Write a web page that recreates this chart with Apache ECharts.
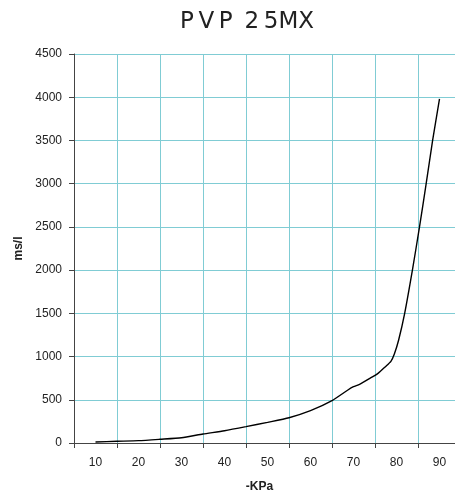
<!DOCTYPE html>
<html>
<head>
<meta charset="utf-8">
<script src="https://cdn.jsdelivr.net/npm/echarts@6/dist/echarts.min.js"></script>
<style>html,body{margin:0;padding:0;background:#fff;overflow:hidden}#c{width:455px;height:494px}</style>
</head>
<body>
<div id="c"></div>
<script>
var categories = ['10','20','30','40','50','60','70','80','90'];
var yTicks = [0,500,1000,1500,2000,2500,3000,3500,4000,4500];
var kpa = [10,15,20,25,30,35,40,45,50,55,60,65,68.7,70,71.4,73.7,75.7,77.4,78.7,79.5,80.5,81.9,83.7,85.35,86.9,88.4,90];
var msl = [12,20,27,43,61,104,142,189,239,292,374,490,613,651,679,745,806,883,945,1030,1192,1500,2000,2500,3000,3500,3980];

var curve = kpa.map(function(k,i){return [k, msl[i]];});
var grid = '#80ccd4';
var chart = echarts.init(document.getElementById('c'));
chart.setOption({
  animation:false,
  backgroundColor:'#fff',
  title:{text:'P\u2009V\u2009P \u20092\u20095MX', left:175, top:6,
    textStyle:{fontFamily:"'DejaVu Sans', sans-serif", fontWeight:'normal', fontSize:23, color:'#222'}},
  grid:{left:74, width:387, top:54, bottom:51, outerBoundsMode:'none', containLabel:false},
  xAxis:[{
    type:'category', data:categories, boundaryGap:true, position:'bottom',
    axisLine:{lineStyle:{color:'#444'}},
    axisTick:{show:true, length:5, interval:0, lineStyle:{color:'#444'}},
    axisLabel:{fontFamily:'Liberation Sans', fontSize:12, color:'#222', margin:14, interval:0},
    splitLine:{show:true, interval:0, lineStyle:{color:grid, width:1}},
    name:'-KPa', nameLocation:'middle', nameGap:38,
    nameTextStyle:{fontFamily:'Liberation Sans', fontWeight:'bold', fontSize:12, color:'#222', padding:[0,0,0,-16]}
  },{
    type:'value', min:5, max:95, show:false, splitLine:{show:false}
  }],
  yAxis:{
    type:'value', min:yTicks[0], max:yTicks[yTicks.length-1], interval:500,
    axisLine:{show:true, lineStyle:{color:'#444'}},
    axisTick:{show:true, length:5, lineStyle:{color:'#444'}},
    axisLabel:{fontFamily:'Liberation Sans', fontSize:12, color:'#222', margin:12, formatter:function(v){return String(v);}},
    splitLine:{show:true, lineStyle:{color:grid, width:1}},
    name:'ms/l', nameLocation:'middle', nameGap:46, nameRotate:90,
    nameTextStyle:{fontFamily:'Liberation Sans', fontWeight:'bold', fontSize:12, color:'#222'}
  },
  series:[{
    type:'line', xAxisIndex:1, data:curve, smooth:0.2, symbol:'none',
    lineStyle:{color:'#000', width:1.4}
  }]
});
</script>
</body>
</html>
